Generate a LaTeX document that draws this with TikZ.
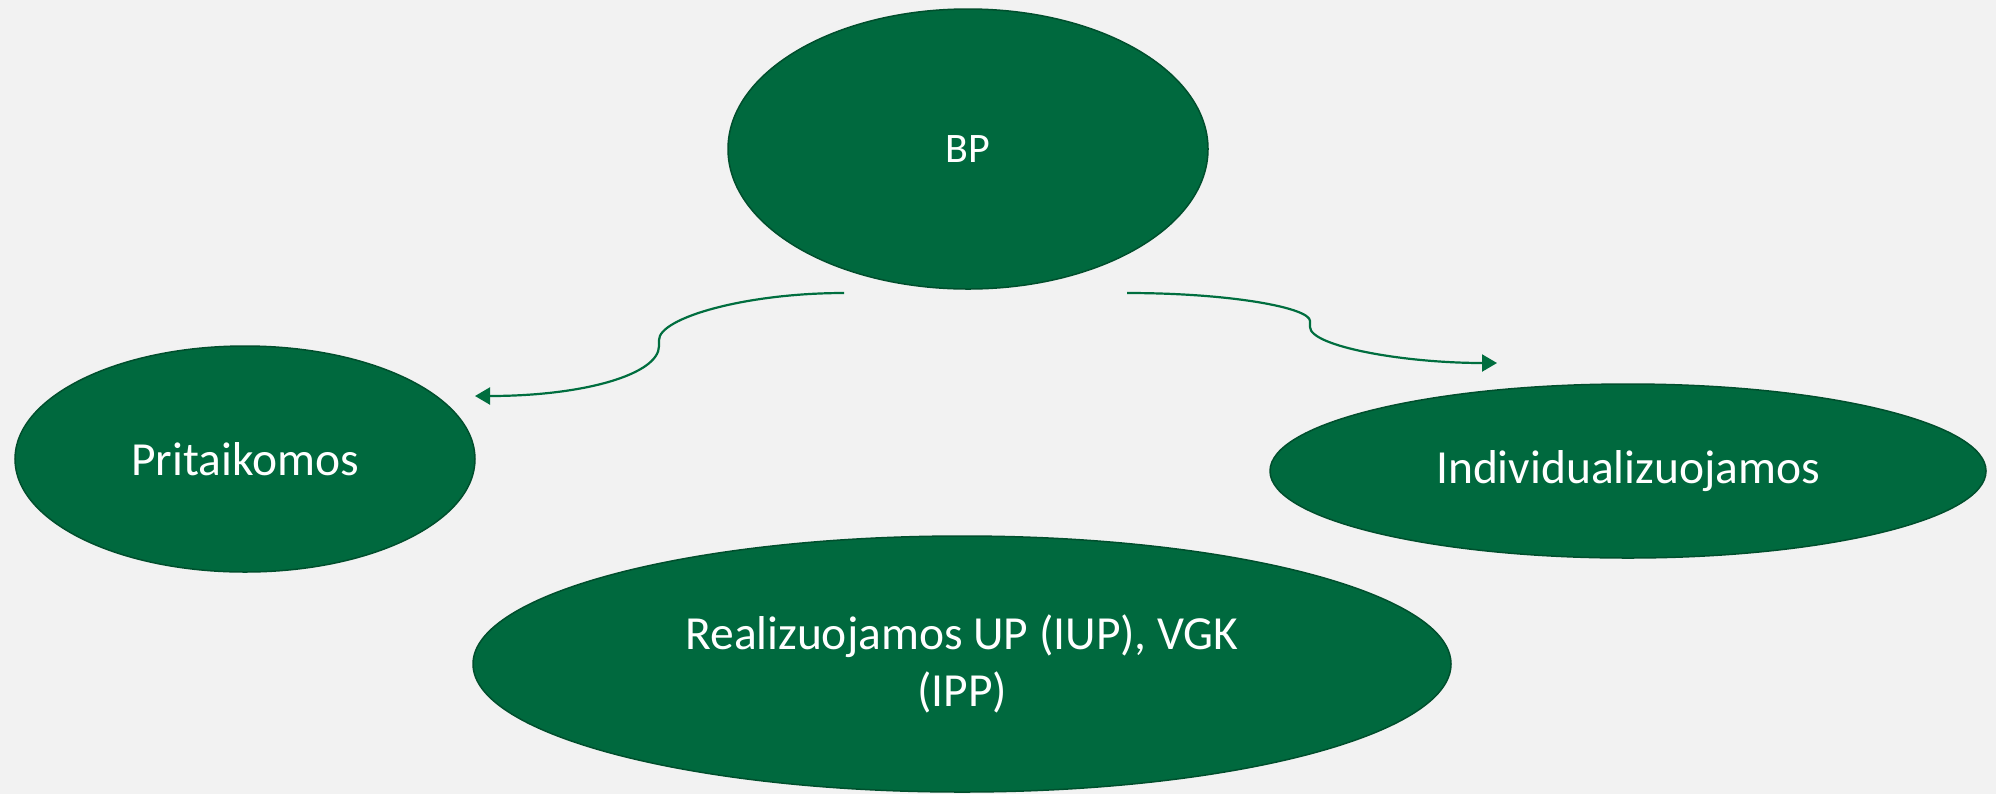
\documentclass[tikz,border=0pt]{standalone}
\usepackage{fontspec}
\setmainfont{Carlito}
\usetikzlibrary{shapes.geometric,arrows.meta}
\definecolor{bggray}{HTML}{F2F2F2}
\definecolor{ovalgreen}{HTML}{00693E}
\definecolor{ovaledge}{HTML}{004F2D}
\definecolor{linkgreen}{HTML}{006E3F}
\tikzset{
  oval/.style={ellipse, fill=ovalgreen, draw=ovaledge, line width=0.75pt, inner sep=0pt,
    text=white, align=center, font=\fontsize{23.75}{28.5}\selectfont},
  link/.style={draw=linkgreen, line width=1.1pt, -{Triangle[length=7.5pt,width=8.5pt]}}
}
\begin{document}
\begin{tikzpicture}[x=0.5pt,y=-0.5pt]
\fill[bggray] (0,0) rectangle (1996,794);
\useasboundingbox (0,0) rectangle (1996,794);
\node[oval, minimum width=240pt, minimum height=140pt, font=\fontsize{21}{25}\selectfont] (bp) at (968,149) {BP};
\node[oval, minimum width=230pt, minimum height=113pt] (prit) at (245,459) {Pritaikomos};
\node[oval, minimum width=358pt, minimum height=87pt] (indiv) at (1628,471) {Individualizuojamos};
\node[oval, minimum width=489pt, minimum height=128pt] (real) at (962,664) {Realizuojamos UP (IUP), VGK\\(IPP)};
\coordinate (ls) at (844,293);
\coordinate (le) at (475,396);
\coordinate (rs) at (1127,293);
\coordinate (re) at (1497,363);
\draw[link] (ls) .. controls (745,293) and (659,318) .. (659,340)
  -- (659,346) .. controls (659,374) and (585,396) .. (le);
\draw[link] (rs) .. controls (1232,293) and (1310,308) .. (1310,321)
  -- (1310,327) .. controls (1310,346) and (1402,363) .. (re);
\end{tikzpicture}
\end{document}
